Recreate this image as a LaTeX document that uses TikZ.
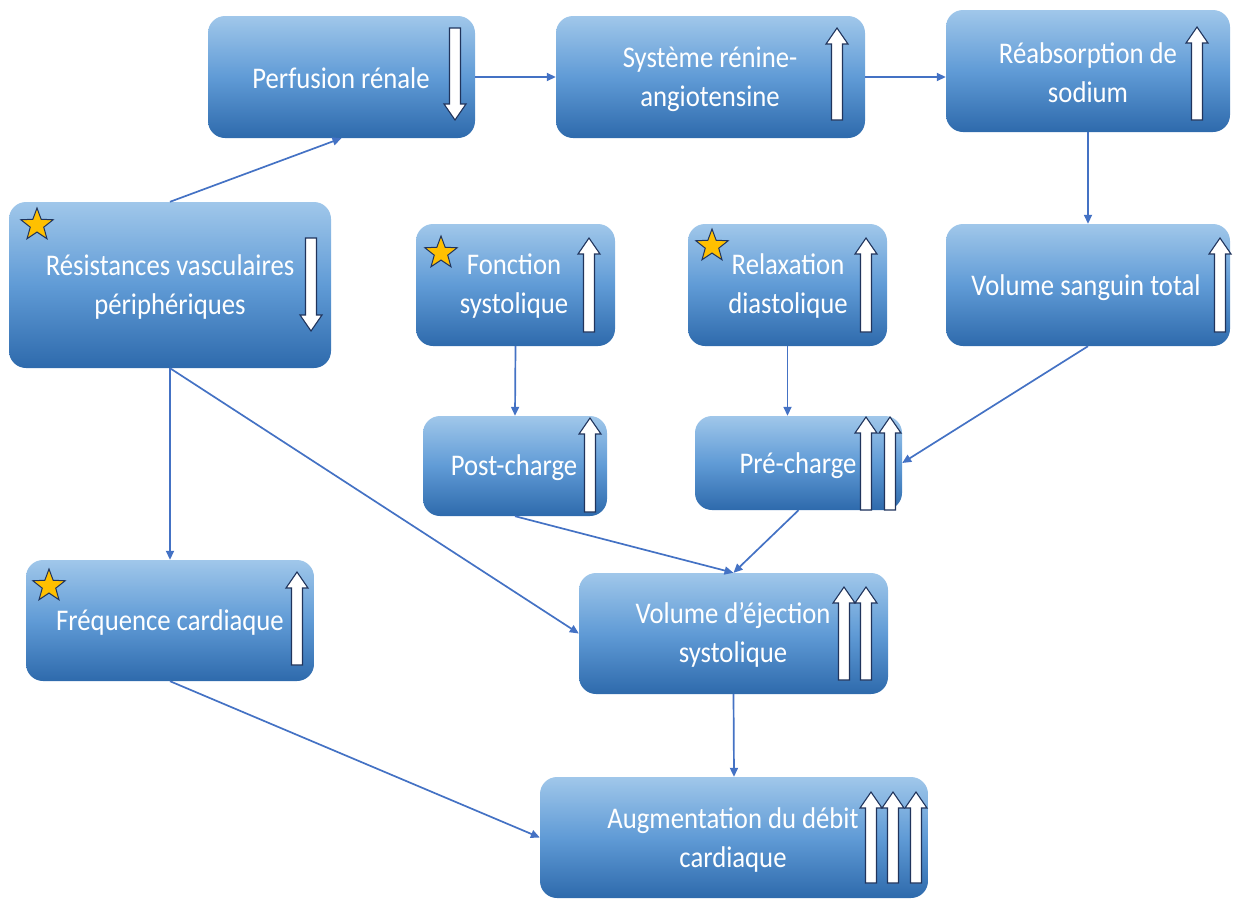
\documentclass[tikz,border=0pt]{standalone}
\usepackage{fontspec}
\setmainfont{Carlito}[FakeStretch=0.89]
\usetikzlibrary{arrows.meta,shapes.geometric,calc}
\definecolor{boxtop}{RGB}{160,199,234}
\definecolor{boxmid}{RGB}{96,155,214}
\definecolor{boxbot}{RGB}{46,106,172}
\definecolor{conn}{RGB}{68,114,196}
\definecolor{navy}{RGB}{32,52,92}
\definecolor{gold}{RGB}{255,192,0}
\tikzset{
  box/.style={rounded corners=17pt, top color=boxtop, bottom color=boxbot, middle color=boxmid, draw=none, inner sep=0pt},
  lbl/.style={text=white, align=center, font=\fontsize{30}{39}\selectfont, inner sep=0pt},
  conn/.style={draw=conn, line width=1.7pt, -{Triangle[length=9pt,width=8pt]}},
  blkarrow/.style={fill=white, draw=navy, line width=1.1pt, line join=miter},
  starmark/.style={star, star points=5, star point ratio=2.4, minimum size=34pt, inner sep=0pt, fill=gold, draw=navy, line width=1pt}
}
\newcommand\blkUp[3]{\draw[blkarrow] (#1-5.5,#3) -- (#1-5.5,#2+16) -- (#1-11,#2+16) -- (#1,#2) -- (#1+11,#2+16) -- (#1+5.5,#2+16) -- (#1+5.5,#3) -- cycle;}
\newcommand\blkDown[3]{\draw[blkarrow] (#1-5.5,#2) -- (#1-5.5,#3-16) -- (#1-11,#3-16) -- (#1,#3) -- (#1+11,#3-16) -- (#1+5.5,#3-16) -- (#1+5.5,#2) -- cycle;}
\begin{document}
\begin{tikzpicture}[x=1pt,y=-1pt]
\useasboundingbox (0,0) rectangle (1237,900);
% boxes
\node[box, minimum width=267pt, minimum height=122pt] (perf) at (341.5,77) {};
\node[box, minimum width=309pt, minimum height=122pt] (sys) at (710.5,77) {};
\node[box, minimum width=284pt, minimum height=122pt] (rea) at (1088,71) {};
\node[box, minimum width=322pt, minimum height=166pt] (res) at (170,285) {};
\node[box, minimum width=199pt, minimum height=122pt] (fon) at (515.5,285) {};
\node[box, minimum width=199pt, minimum height=122pt] (rel) at (787.5,285) {};
\node[box, minimum width=284pt, minimum height=122pt] (vol) at (1088,285) {};
\node[box, minimum width=184pt, minimum height=100pt] (post) at (515,466) {};
\node[box, minimum width=207pt, minimum height=94pt] (pre) at (798.5,463) {};
\node[box, minimum width=288pt, minimum height=121pt] (freq) at (170,620.5) {};
\node[box, minimum width=309pt, minimum height=121pt] (vej) at (733.5,633.5) {};
\node[box, minimum width=388pt, minimum height=121pt] (aug) at (734,837.5) {};
% labels
\node[lbl] (perfT) at (341,78) {Perfusion rénale};
\node[lbl] (sysT) at (710,79) {Système rénine-\\angiotensine};
\node[lbl] (reaT) at (1088,73) {Réabsorption de\\sodium};
\node[lbl] (resT) at (170,287) {Résistances vasculaires\\périphériques};
\node[lbl] (fonT) at (514,286) {Fonction\\systolique};
\node[lbl] (relT) at (788,286) {Relaxation\\diastolique};
\node[lbl] (volT) at (1086,288) {Volume sanguin total};
\node[lbl] (postT) at (514,468) {Post-charge};
\node[lbl] (preT) at (798,466) {Pré-charge};
\node[lbl] (freqT) at (170,622) {Fréquence cardiaque};
\node[lbl] (vejT) at (733,635) {Volume d’éjection\\systolique};
\node[lbl] (augT) at (733,840) {Augmentation du débit\\cardiaque};
% block arrows
\blkDown{455}{28}{120}
\blkUp{837}{28}{120}
\blkUp{1197}{27}{120}
\blkDown{311}{238}{331}
\blkUp{589}{238}{332}
\blkUp{866}{238}{332}
\blkUp{1220}{238}{332}
\blkUp{590}{418}{512}
\blkUp{866}{417}{510}
\blkUp{890}{417}{510}
\blkUp{297}{572}{665}
\blkUp{844}{587}{680}
\blkUp{866}{587}{680}
\blkUp{871}{792}{883}
\blkUp{893}{792}{883}
\blkUp{916}{792}{883}
% stars
\node[starmark] (s1) at (37,225) {};
\node[starmark] (s2) at (441,253) {};
\node[starmark] (s3) at (712,246) {};
\node[starmark] (s4) at (49,586) {};
% connectors
\draw[conn] (perf.east) -- (sys.west);
\draw[conn] (sys.east) -- (sys.east -| rea.west);
\draw[conn] (rea.south) -- (vol.north);
\draw[conn] (res.north) -- (perf.south);
\draw[conn] (res.south) -- (freq.north);
\draw[conn] (res.south) -- (vej.west);
\draw[conn] (fon.south) -- (post.north);
\draw[conn] (rel.south) -- (rel.south |- pre.north);
\draw[conn] (vol.south) -- (pre.east);
\draw[conn] (post.south) -- (vej.north);
\draw[conn] (pre.south) -- (vej.north);
\draw[conn] (freq.south) -- (aug.west);
\draw[conn] (vej.south) -- (aug.north);
\end{tikzpicture}
\end{document}
